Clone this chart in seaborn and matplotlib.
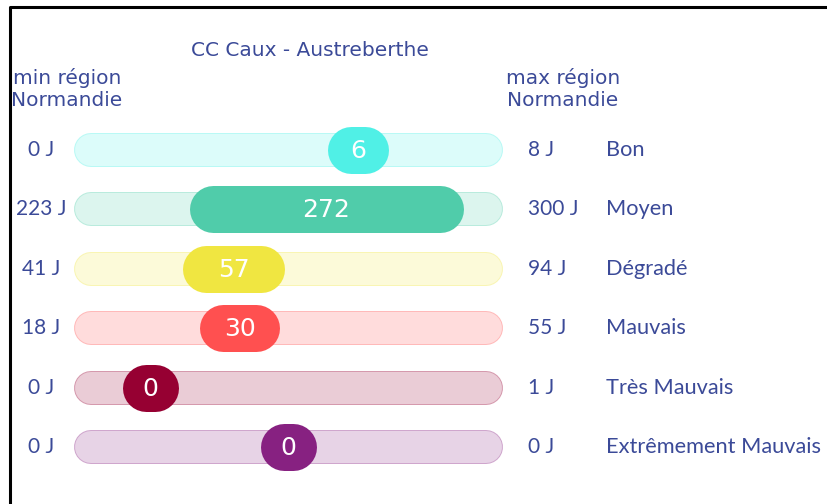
import seaborn as sns
import matplotlib.pyplot as plt
from matplotlib.colors import to_rgb

# data
title = "CC Caux - Austreberthe"
categories = ["Bon", "Moyen", "Dégradé", "Mauvais", "Très Mauvais", "Extrêmement Mauvais"]
values = [6, 272, 57, 30, 0, 0]
min_region = [0, 223, 41, 18, 0, 0]
max_region = [8, 300, 94, 55, 1, 0]
colors = ["#50F0E6", "#50CCAA", "#F0E641", "#FF5050", "#960032", "#872181"]

sns.set_theme(style="white")
plt.rcParams['font.family'] = ['DejaVu Sans']

text_col = "#3b4a98"
side_font = ['Lato', 'DejaVu Sans']


def tint(c, a):
    r, g, b = to_rgb(c)
    return (1 - a + a * r, 1 - a + a * g, 1 - a + a * b)


fig = plt.figure(figsize=(8.27, 5.04), dpi=100)
ax = fig.add_axes([0, 0, 1, 1])
ax.set_xlim(0, 827)
ax.set_ylim(504, 0)
ax.axis("off")
px = 72 / fig.dpi  # points per pixel

# frame lines (left and top)
ax.plot([9.5, 9.5, 827], [504, 6.5, 6.5], color="black", lw=2.2, solid_capstyle="butt")

bar_x0, bar_x1 = 75, 502
bar_h = 32
pill_h = 47
pad = 75
row_y0, row_step = 150, 59.4

ax.text(310, 50, title, ha="center", va="center", fontsize=14.5, color=text_col)
ax.text(67, 89, "min région\nNormandie", ha="center", va="center", fontsize=14.5,
        color=text_col, linespacing=1.15)
ax.text(563, 89, "max région\nNormandie", ha="center", va="center", fontsize=14.5,
        color=text_col, linespacing=1.15)

for i, cat in enumerate(categories):
    y = row_y0 + i * row_step
    col = colors[i]
    # background bar (stadium = thick line with round caps)
    xs = [bar_x0 + bar_h / 2, bar_x1 - bar_h / 2]
    ax.plot(xs, [y, y], color=tint(col, 0.4), lw=(bar_h + 2) * px, solid_capstyle="round")
    ax.plot(xs, [y, y], color=tint(col, 0.2), lw=bar_h * px, solid_capstyle="round")
    # value pill
    lo, hi, v = min_region[i], max_region[i], values[i]
    frac = 0.5 if hi == lo else (v - lo) / (hi - lo)
    cx = bar_x0 + pad + frac * (bar_x1 - bar_x0 - 2 * pad)
    w = 56 + 0.8 * v
    half = (w - pill_h) / 2
    ax.plot([cx - half, cx + half], [y, y], color=col, lw=pill_h * px,
            solid_capstyle="round")
    ax.text(cx, y + 1, str(v), ha="center", va="center", fontsize=18, color="white")
    # side labels
    ax.text(41, y, f"{lo} J", ha="center", va="center", fontsize=15,
            color=text_col, family=side_font)
    ax.text(528, y, f"{hi} J", ha="left", va="center", fontsize=15,
            color=text_col, family=side_font)
    ax.text(606, y, cat, ha="left", va="center", fontsize=15.7,
            color=text_col, family=side_font)

fig.savefig("out.png", dpi=100, facecolor="white")
